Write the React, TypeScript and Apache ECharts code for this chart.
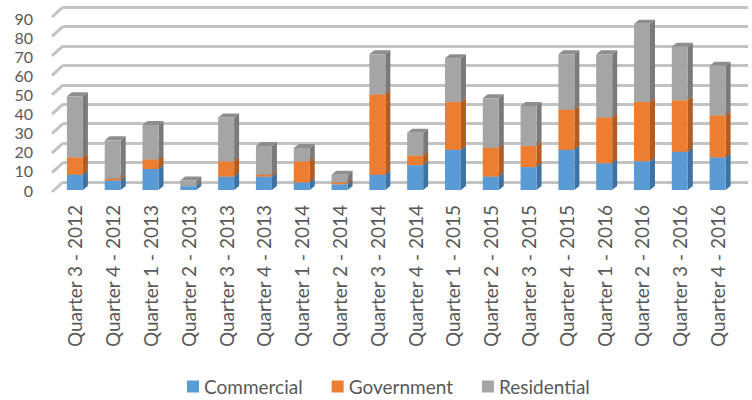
import React, { useEffect, useRef } from "react";
import * as echarts from "echarts";

const categories = [
  "Quarter 3 - 2012", "Quarter 4 - 2012", "Quarter 1 - 2013", "Quarter 2 - 2013",
  "Quarter 3 - 2013", "Quarter 4 - 2013", "Quarter 1 - 2014", "Quarter 2 - 2014",
  "Quarter 3 - 2014", "Quarter 4 - 2014", "Quarter 1 - 2015", "Quarter 2 - 2015",
  "Quarter 3 - 2015", "Quarter 4 - 2015", "Quarter 1 - 2016", "Quarter 2 - 2016",
  "Quarter 3 - 2016", "Quarter 4 - 2016",
];
const commercial = [8, 5, 11, 2, 7, 7, 4, 3, 8, 13, 21, 7, 12, 21, 14, 15, 20, 17];
const government = [9, 1, 5, 0, 8, 1, 11, 1, 42, 5, 25, 15, 11, 21, 24, 31, 27, 22];
const residential = [32, 20, 18, 3, 23, 15, 7, 4, 21, 12, 23, 26, 21, 29, 33, 41, 28, 26];
const yTicks = [0, 10, 20, 30, 40, 50, 60, 70, 80, 90];

const seriesDefs = [
  { name: "Commercial", values: commercial, front: "#5B9BD5", side: "#3E72A3", top: "#4F86BA" },
  { name: "Government", values: government, front: "#ED7D31", side: "#B25C22", top: "#D06C2A" },
  { name: "Residential", values: residential, front: "#A5A5A5", side: "#7A7A7A", top: "#8E8E8E" },
];

const FONT = "Lato, 'Open Sans', sans-serif";
const BAR_W = 16;
const DX = 5;
const DY = -4;

export default function App() {
  const ref = useRef<HTMLDivElement>(null);
  useEffect(() => {
    if (!ref.current) return;
    const chart = echarts.init(ref.current, null, { renderer: "svg" });

    const cum = categories.map(() => 0);
    const barSeries = seriesDefs.map((s) => {
      const data = s.values.map((v, i) => {
        const base = cum[i];
        cum[i] += v;
        return [i, base, base + v];
      });
      return {
        type: "custom",
        name: s.name,
        xAxisIndex: 0,
        yAxisIndex: 0,
        itemStyle: { color: s.front },
        encode: { x: 0, y: [1, 2] },
        data,
        renderItem: (params: any, api: any) => {
          const cat = api.value(0);
          const b = api.value(1);
          const t = api.value(2);
          if (t - b <= 0) return { type: "group", children: [] };
          const pb = api.coord([cat, b]);
          const pt = api.coord([cat, t]);
          const x0 = pb[0] - BAR_W / 2;
          const x1 = pb[0] + BAR_W / 2;
          const yb = pb[1];
          const yt = pt[1];
          return {
            type: "group",
            children: [
              {
                type: "polygon",
                shape: { points: [[x1, yb], [x1, yt], [x1 + DX, yt + DY], [x1 + DX, yb + DY]] },
                style: { fill: s.side },
              },
              {
                type: "polygon",
                shape: { points: [[x0, yt], [x1, yt], [x1 + DX, yt + DY], [x0 + DX, yt + DY]] },
                style: { fill: s.top },
              },
              {
                type: "rect",
                shape: { x: x0, y: yt, width: BAR_W, height: yb - yt },
                style: { fill: s.front },
              },
            ],
          };
        },
      };
    });

    const option: any = {
      animation: false,
      textStyle: { fontFamily: FONT },
      grid: [
        { left: 56, right: 15.5, top: 18, bottom: 210 },
        { left: 63, right: 4, top: 7, bottom: 218 },
      ],
      xAxis: [
        {
          type: "category",
          gridIndex: 0,
          data: categories,
          axisLine: { show: false },
          axisTick: { show: false },
          axisLabel: {
            rotate: 90,
            interval: 0,
            margin: 15,
            fontSize: 19,
            lineHeight: 19,
            color: "#595959",
            fontFamily: FONT,
          },
        },
        { type: "value", gridIndex: 1, min: 0, max: 1, show: false },
      ],
      yAxis: [
        {
          type: "value",
          gridIndex: 0,
          min: 0,
          max: 90,
          interval: 10,
          axisLine: { show: false },
          axisTick: { show: false },
          splitLine: { show: false },
          axisLabel: {
            margin: 23,
            fontSize: 16,
            lineHeight: 16,
            color: "#595959",
            fontFamily: FONT,
          },
        },
        {
          type: "value",
          gridIndex: 1,
          min: 0,
          max: 90,
          interval: 10,
          axisLine: { show: false },
          axisTick: { show: false },
          axisLabel: { show: false },
          splitLine: { show: true, lineStyle: { color: "#C3C3C3", width: 3 } },
        },
      ],
      legend: {
        data: seriesDefs.map((s) => s.name),
        left: 187,
        top: 377,
        icon: "rect",
        itemWidth: 12,
        itemHeight: 12,
        itemGap: 29,
        padding: 0,
        textStyle: { fontSize: 19, lineHeight: 19, color: "#595959", fontFamily: FONT },
      },
      series: [
        {
          type: "custom",
          name: "slant",
          xAxisIndex: 1,
          yAxisIndex: 1,
          silent: true,
          data: yTicks.map((v) => [0, v]),
          renderItem: (params: any, api: any) => {
            const p = api.coord([0, api.value(1)]);
            return {
              type: "line",
              shape: { x1: p[0] - 11, y1: p[1] + 10, x2: p[0], y2: p[1] },
              style: { stroke: "#C3C3C3", lineWidth: 3 },
            };
          },
        },
        ...barSeries,
      ],
    };
    chart.setOption(option);
    return () => chart.dispose();
  }, []);
  return (
    <div
      ref={ref}
      style={{ position: "fixed", left: 0, top: 0, width: 752, height: 400, background: "#fff" }}
    />
  );
}
